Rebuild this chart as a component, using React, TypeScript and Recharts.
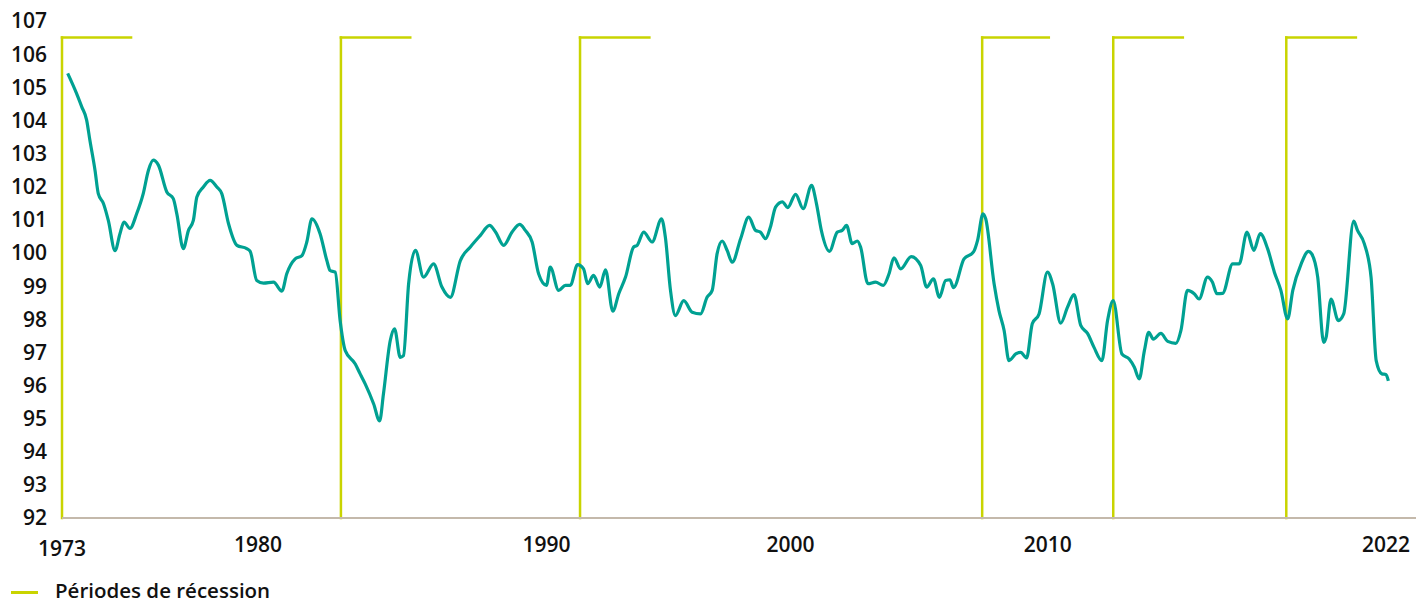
import { LineChart, Line, XAxis, YAxis, ReferenceLine } from 'recharts'

// index level (x in chart years)
const dates = [
  1973.21, 1973.54, 1973.73, 1973.91, 1974.03, 1974.22, 1974.34, 1974.53, 1974.71, 1974.96,
  1975.14, 1975.29, 1975.51, 1975.76, 1976.0, 1976.19, 1976.37, 1976.56, 1976.87, 1977.11,
  1977.24, 1977.48, 1977.67, 1977.85, 1977.98, 1978.22, 1978.47, 1978.72, 1978.9, 1979.15,
  1979.46, 1979.82, 1979.95, 1980.19, 1980.44, 1980.81, 1981.12, 1981.3, 1981.61, 1981.86,
  1982.04, 1982.23, 1982.53, 1982.78, 1982.9, 1983.09, 1983.27, 1983.46, 1983.83, 1984.01,
  1984.2, 1984.51, 1984.73, 1984.87, 1985.12, 1985.28, 1985.49, 1985.61, 1985.8, 1986.05,
  1986.35, 1986.72, 1987.03, 1987.34, 1987.71, 1988.08, 1988.45, 1988.79, 1989.01, 1989.31,
  1989.62, 1989.9, 1990.11, 1990.36, 1990.6, 1990.89, 1991.03, 1991.34, 1991.59, 1991.77,
  1992.04, 1992.26, 1992.41, 1992.63, 1992.86, 1993.07, 1993.34, 1993.56, 1993.81, 1994.11,
  1994.24, 1994.48, 1994.79, 1995.14, 1995.28, 1995.47, 1995.65, 1995.96, 1996.27, 1996.58,
  1996.82, 1997.01, 1997.19, 1997.38, 1997.56, 1997.75, 1998.06, 1998.36, 1998.61, 1998.79,
  1998.98, 1999.16, 1999.35, 1999.6, 1999.8, 2000.09, 2000.37, 2000.68, 2000.86, 2001.04,
  2001.34, 2001.63, 2001.81, 2001.97, 2002.18, 2002.37, 2002.49, 2002.76, 2003.04, 2003.33,
  2003.54, 2003.72, 2003.97, 2004.36, 2004.71, 2004.93, 2005.18, 2005.4, 2005.63, 2005.79,
  2005.92, 2006.31, 2006.66, 2006.81, 2007.01, 2007.11, 2007.42, 2007.6, 2007.79, 2007.97,
  2008.22, 2008.4, 2008.62, 2008.83, 2009.08, 2009.39, 2009.58, 2009.88, 2010.13, 2010.37,
  2010.62, 2010.87, 2011.11, 2011.4, 2011.61, 2011.82, 2012.14, 2012.41, 2012.6, 2012.78,
  2012.97, 2013.13, 2013.3, 2013.58, 2013.83, 2014.13, 2014.32, 2014.56, 2014.81, 2014.99,
  2015.3, 2015.48, 2015.65, 2015.86, 2016.23, 2016.47, 2016.76, 2017.01, 2017.25, 2017.52,
  2017.77, 2018.01, 2018.26, 2018.45, 2018.76, 2019.03, 2019.15, 2019.37, 2019.59, 2019.68,
  2019.86, 2020.13, 2020.33, 2020.7, 2020.84, 2021.09, 2021.34, 2021.53, 2021.74, 2021.89,
  2021.98,
]

const values = [
  105.42, 104.81, 104.41, 104.01, 103.4, 102.49, 101.79, 101.49, 100.98, 100.07,
  100.58, 100.93, 100.74, 101.19, 101.79, 102.49, 102.8, 102.65, 101.84, 101.64,
  101.18, 100.13, 100.68, 100.98, 101.69, 101.99, 102.19, 101.99, 101.79, 100.88,
  100.23, 100.13, 100.05, 99.17, 99.09, 99.12, 98.85, 99.37, 99.82, 99.92,
  100.33, 101.03, 100.58, 99.77, 99.47, 99.42, 97.96, 97.05, 96.65, 96.35,
  96.04, 95.44, 94.93, 95.74, 97.35, 97.71, 96.85, 96.9, 99.07, 100.08,
  99.27, 99.67, 98.97, 98.66, 99.77, 100.18, 100.53, 100.83, 100.63, 100.23,
  100.63, 100.86, 100.68, 100.33, 99.37, 99.02, 99.57, 98.87, 99.02, 99.02,
  99.65, 99.52, 99.07, 99.32, 98.97, 99.49, 98.24, 98.77, 99.27, 100.18,
  100.23, 100.63, 100.33, 101.03, 100.48, 98.87, 98.11, 98.56, 98.21, 98.16,
  98.66, 98.87, 99.97, 100.36, 100.08, 99.72, 100.43, 101.08, 100.68, 100.63,
  100.43, 100.78, 101.38, 101.54, 101.37, 101.77, 101.34, 102.04, 101.49, 100.68,
  100.05, 100.63, 100.68, 100.83, 100.28, 100.36, 100.18, 99.07, 99.12, 99.02,
  99.37, 99.85, 99.52, 99.89, 99.62, 98.97, 99.22, 98.66, 99.17, 99.19,
  98.95, 99.82, 100.03, 100.38, 101.18, 101.03, 99.07, 98.26, 97.66, 96.75,
  96.95, 97.0, 96.83, 97.86, 98.16, 99.42, 99.07, 97.88, 98.36, 98.74,
  97.81, 97.57, 97.15, 96.75, 97.96, 98.56, 96.95, 96.8, 96.55, 96.2,
  97.05, 97.6, 97.4, 97.57, 97.33, 97.27, 97.66, 98.87, 98.77, 98.61,
  99.27, 99.12, 98.77, 98.78, 99.67, 99.67, 100.63, 100.08, 100.58, 100.13,
  99.42, 98.87, 98.01, 98.87, 99.67, 100.05, 99.97, 99.27, 97.3, 97.45,
  98.61, 97.96, 98.16, 100.96, 100.68, 100.28, 99.27, 96.75, 96.35, 96.33,
  96.14,
]

// recession periods (start / end on the same x scale)
const recessionStart = [1973.0, 1983.3, 1992.13, 2006.98, 2011.82, 2018.21]
const recessionEnd = [1975.55, 1985.86, 1994.69, 2009.44, 2014.39, 2020.78]
const recessionLevel = 106.5

const yTicks = [92, 93, 94, 95, 96, 97, 98, 99, 100, 101, 102, 103, 104, 105, 106, 107]
const xTickLabels = ['1973', '1980', '1990', '2000', '2010', '2022']
const xTickPositions = [1973, 1980.24, 1990.89, 1999.9, 2009.4, 2021.89]

const data = dates.map((t, i) => ({ t, v: values[i] }))

const FONT = '"Open Sans", sans-serif'
const TEAL = '#00a192'
const LIME = '#c9d400'

const XTick = (props: any) => {
  const { x, y, index } = props
  return (
    <text
      x={x}
      y={y + (index === 0 ? 4 : 0)}
      dy='0.71em'
      textAnchor='middle'
      fontFamily={FONT}
      fontWeight={600}
      fontSize={21}
      fill='#111'
    >
      {xTickLabels[index]}
    </text>
  )
}

export default function App() {
  return (
    <div style={{ position: 'absolute', left: 0, top: 0, width: 1416, height: 600 }}>
      <LineChart
        width={1416}
        height={600}
        data={data}
        margin={{ top: 21, right: 0, bottom: 52, left: 0 }}
      >
        <XAxis
          dataKey='t'
          type='number'
          domain={[1973, 2023]}
          ticks={xTickPositions}
          interval={0}
          height={30}
          tickLine={false}
          tickMargin={13}
          axisLine={{ stroke: '#c4b9ab', strokeWidth: 2 }}
          tick={<XTick />}
        />
        <YAxis
          domain={[92, 107]}
          ticks={yTicks}
          interval={0}
          width={62}
          axisLine={false}
          tickLine={false}
          tickMargin={9}
          tick={{ fontFamily: FONT, fontWeight: 600, fontSize: 21, fill: '#111' }}
        />
        {recessionStart.map((s, i) => (
          <ReferenceLine
            key={'v' + i}
            segment={[
              { x: s, y: 92 },
              { x: s, y: recessionLevel },
            ]}
            stroke={LIME}
            strokeWidth={2.5}
            strokeLinecap='square'
          />
        ))}
        {recessionStart.map((s, i) => (
          <ReferenceLine
            key={'h' + i}
            segment={[
              { x: s, y: recessionLevel },
              { x: recessionEnd[i], y: recessionLevel },
            ]}
            stroke={LIME}
            strokeWidth={2.5}
            strokeLinecap='square'
          />
        ))}
        <Line
          dataKey='v'
          type='monotone'
          stroke={TEAL}
          strokeWidth={3.2}
          dot={false}
          isAnimationActive={false}
        />
      </LineChart>
      <div style={{ position: 'absolute', left: 11, top: 590.5, width: 27, height: 3, background: LIME }} />
      <div
        style={{
          position: 'absolute',
          left: 55,
          top: 580.5,
          height: 19,
          fontFamily: FONT,
          fontWeight: 600,
          fontSize: 20.5,
          lineHeight: '19px',
          color: '#111',
          whiteSpace: 'nowrap',
        }}
      >
        Périodes de récession
      </div>
    </div>
  )
}
